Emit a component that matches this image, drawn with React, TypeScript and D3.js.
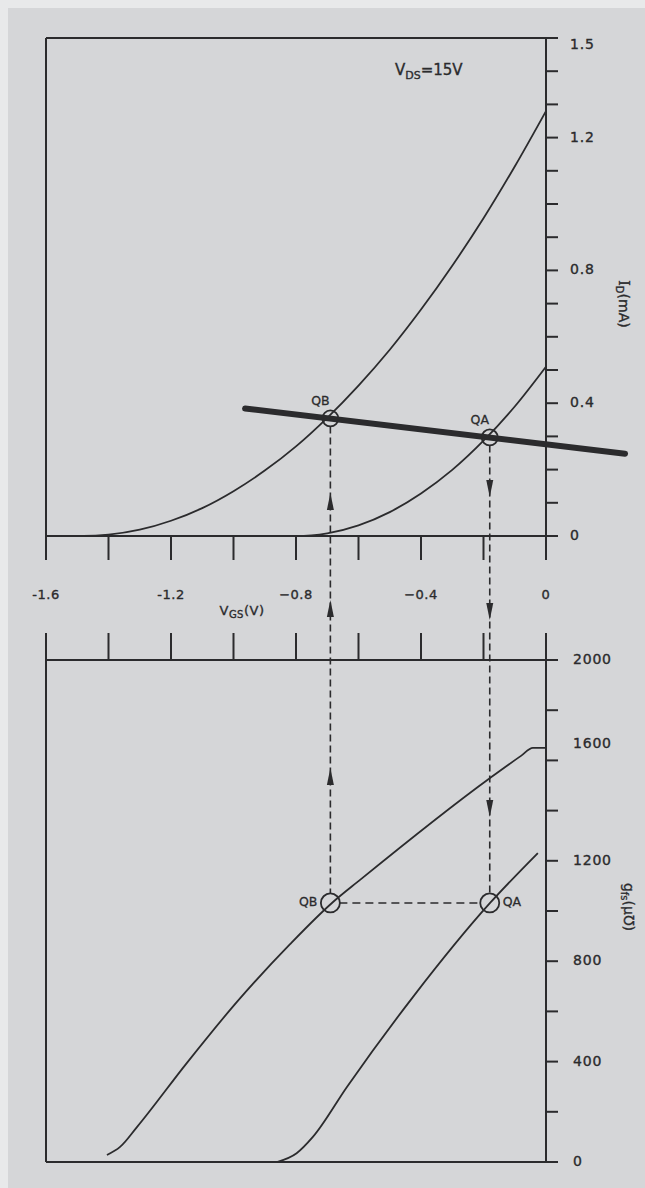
import { curveMonotoneX, line, scaleLinear } from 'd3'

// axis ticks and labels
const vgsTicks = [-1.6, -1.4, -1.2, -1.0, -0.8, -0.6, -0.4, -0.2, 0]
const vgsLabelValues = [-1.6, -1.2, -0.8, -0.4, 0]
const vgsLabelText = ['-1.6', '-1.2', '−0.8', '−0.4', '0']

const idTicks = [0, 0.1, 0.2, 0.3, 0.4, 0.5, 0.6, 0.7, 0.8, 0.9, 1.0, 1.1, 1.2, 1.3, 1.4, 1.5]
const idLabelValues = [0, 0.4, 0.8, 1.2, 1.5]
const gfsTicks = [0, 200, 400, 600, 800, 1000, 1200, 1400, 1600, 1800, 2000]
const gfsLabelValues = [0, 400, 800, 1200, 1600, 2000]

// transfer curves, I_D (mA) vs V_GS (V)
const idHighVgs = [-1.55, -1.48, -1.4, -1.3, -1.2, -1.1, -1.0, -0.9, -0.8, -0.7, -0.6, -0.5, -0.4, -0.3, -0.2, -0.1, 0]
const idHighMa = [0, 0, 0.004, 0.019, 0.046, 0.084, 0.135, 0.197, 0.27, 0.356, 0.453, 0.561, 0.682, 0.814, 0.957, 1.113, 1.28]
const idLowVgs = [-0.88, -0.8, -0.75, -0.7, -0.6, -0.5, -0.4, -0.3, -0.2, -0.1, 0]
const idLowMa = [0, 0, 0.002, 0.008, 0.032, 0.072, 0.128, 0.199, 0.287, 0.39, 0.51]

// transconductance curves, g_fs (umho) vs V_GS (V)
const gfsHighVgs = [-1.405, -1.363, -1.309, -1.149, -0.989, -0.819, -0.685, -0.595, -0.179, -0.08, -0.042, 0]
const gfsHighVal = [28, 60, 139, 395, 638, 868, 1032, 1124, 1530, 1618, 1650, 1650]
const gfsLowVgs = [-0.861, -0.798, -0.746, -0.637, -0.426, -0.179, -0.026]
const gfsLowVal = [0, 35, 100, 299, 657, 1032, 1231]

// bias line
const loadVgs = [-0.963, 0.253]
const loadMa = [0.384, 0.248]

// operating points
const qNames = ['QB', 'QA']
const qVgs = [-0.69, -0.18]
const qId = [0.354, 0.297]
const qGfs = [1032, 1032]

const ink = '#2b2b2d'
const font = '"DejaVu Sans", sans-serif'

export default function App() {
  const x = scaleLinear().domain([-1.6, 0]).range([46, 546])
  const yTop = scaleLinear().domain([0, 1.5]).range([536, 38])
  const yBot = scaleLinear().domain([0, 2000]).range([1162, 660])

  const idLine = line<[number, number]>()
    .x((d) => x(d[0]))
    .y((d) => yTop(d[1]))
    .curve(curveMonotoneX)
  const gfsLine = line<[number, number]>()
    .x((d) => x(d[0]))
    .y((d) => yBot(d[1]))
    .curve(curveMonotoneX)

  const zip = (a: number[], b: number[]) => a.map((v, i) => [v, b[i]] as [number, number])

  const x0 = x(-1.6)
  const x1 = x(0)
  const tickLen = 12

  const arrow = (cx: number, tip: number, up: boolean, key: string) => {
    const base = up ? tip + 17 : tip - 17
    return <polygon key={key} points={`${cx},${tip} ${cx - 3.5},${base} ${cx + 3.5},${base}`} fill={ink} />
  }

  return (
    <svg
      width={645}
      height={1188}
      style={{ position: 'absolute', left: 0, top: 0, display: 'block' }}
      fontFamily={font}
    >
      <rect width={645} height={1188} fill="#e8e9ea" />
      <rect x={8} y={8} width={637} height={1180} fill="#d5d6d8" />

      {/* ---------- upper plot: I_D ---------- */}
      <g stroke={ink} strokeWidth={2} fill="none">
        <line x1={x0} x2={x1} y1={yTop(1.5)} y2={yTop(1.5)} />
        <line x1={x0} x2={x0} y1={yTop(1.5)} y2={yTop(0)} />
        <line x1={x1} x2={x1} y1={yTop(1.5)} y2={yTop(0)} />
        <line x1={x0} x2={x1} y1={yTop(0)} y2={yTop(0)} />
        {idTicks.map((t) => (
          <line key={`it-${t}`} x1={x1} x2={x1 + tickLen} y1={yTop(t)} y2={yTop(t)} />
        ))}
        {vgsTicks.map((t) => (
          <line key={`vt-${t}`} x1={x(t)} x2={x(t)} y1={yTop(0)} y2={yTop(0) + 24} />
        ))}
      </g>

      <g fill={ink} stroke={ink} strokeWidth={0.35} fontSize={14} letterSpacing={0.8}>
        {idLabelValues.map((t) => (
          <text key={`il-${t}`} x={570} y={yTop(t) + (t === 1.5 ? 7 : 0)} dominantBaseline="middle">
            {t === 0 ? '0' : t.toFixed(1)}
          </text>
        ))}
      </g>

      <text x={395} y={75} fill={ink} stroke={ink} strokeWidth={0.35} fontSize={15}>
        V<tspan fontSize={11} dy={4}>DS</tspan>
        <tspan dy={-4}>=15V</tspan>
      </text>

      <text
        transform="translate(619,304) rotate(90)"
        textAnchor="middle"
        fill={ink}
        stroke={ink}
        strokeWidth={0.35}
        fontSize={14}
      >
        <tspan fontFamily='"DejaVu Serif", serif'>I</tspan>
        <tspan fontSize={10} dy={3}>D</tspan>
        <tspan dy={-3}>(mA)</tspan>
      </text>

      <path d={idLine(zip(idHighVgs, idHighMa)) ?? ''} fill="none" stroke={ink} strokeWidth={1.8} />
      <path d={idLine(zip(idLowVgs, idLowMa)) ?? ''} fill="none" stroke={ink} strokeWidth={1.8} />
      <path
        d={line<[number, number]>().x((d) => x(d[0])).y((d) => yTop(d[1]))(zip(loadVgs, loadMa)) ?? ''}
        fill="none"
        stroke={ink}
        strokeWidth={6}
        strokeLinecap="round"
      />

      {/* ---------- middle V_GS axis labels ---------- */}
      <g fill={ink} stroke={ink} strokeWidth={0.35} fontSize={13} letterSpacing={0.5}>
        {vgsLabelValues.map((v, i) => (
          <text key={`vl-${v}`} x={x(v)} y={595} textAnchor="middle" dominantBaseline="middle">
            {vgsLabelText[i]}
          </text>
        ))}
        <text x={242} y={615} textAnchor="middle">
          V<tspan fontSize={10} dy={3}>GS</tspan>
          <tspan dy={-3}>(V)</tspan>
        </text>
      </g>

      {/* ---------- lower plot: g_fs ---------- */}
      <g stroke={ink} strokeWidth={2} fill="none">
        <line x1={x0} x2={x1} y1={yBot(2000)} y2={yBot(2000)} />
        <line x1={x0} x2={x0} y1={yBot(2000)} y2={yBot(0)} />
        <line x1={x1} x2={x1} y1={yBot(2000)} y2={yBot(0)} />
        <line x1={x0} x2={x1} y1={yBot(0)} y2={yBot(0)} />
        {gfsTicks.map((t) => (
          <line key={`gt-${t}`} x1={x1} x2={x1 + tickLen} y1={yBot(t)} y2={yBot(t)} />
        ))}
        {vgsTicks.map((t) => (
          <line key={`vb-${t}`} x1={x(t)} x2={x(t)} y1={yBot(2000)} y2={yBot(2000) - 27} />
        ))}
      </g>

      <g fill={ink} stroke={ink} strokeWidth={0.35} fontSize={14} letterSpacing={0.8}>
        {gfsLabelValues.map((t) => (
          <text key={`gl-${t}`} x={573} y={yBot(t) + (t === 1600 ? -16 : 0)} dominantBaseline="middle">
            {t}
          </text>
        ))}
      </g>

      <text
        transform="translate(624,907) rotate(90)"
        textAnchor="middle"
        fill={ink}
        stroke={ink}
        strokeWidth={0.3}
        fontSize={14}
      >
        g<tspan fontSize={10} dy={3}>fs</tspan>
        <tspan dy={-3}>(μ℧)</tspan>
      </text>

      <path d={gfsLine(zip(gfsHighVgs, gfsHighVal)) ?? ''} fill="none" stroke={ink} strokeWidth={1.8} />
      <path d={gfsLine(zip(gfsLowVgs, gfsLowVal)) ?? ''} fill="none" stroke={ink} strokeWidth={1.8} />

      {/* ---------- operating point projections ---------- */}
      <g stroke={ink} strokeWidth={1.6} fill="none" strokeDasharray="7 4">
        {qVgs.map((v, i) => (
          <line key={`qd-${i}`} x1={x(v)} x2={x(v)} y1={yTop(qId[i]) + 8} y2={yBot(qGfs[i]) - 9} />
        ))}
        <line x1={x(qVgs[0]) + 9} x2={x(qVgs[1]) - 9} y1={yBot(qGfs[0])} y2={yBot(qGfs[1])} strokeDasharray="8 5" />
      </g>

      {/* QB arrows point up, QA arrows point down */}
      {arrow(x(qVgs[0]), 493, true, 'ab1')}
      {arrow(x(qVgs[0]), 600, true, 'ab2')}
      {arrow(x(qVgs[0]), 768, true, 'ab3')}
      {arrow(x(qVgs[1]), 497, false, 'aa1')}
      {arrow(x(qVgs[1]), 620, false, 'aa2')}
      {arrow(x(qVgs[1]), 817, false, 'aa3')}

      <g fill="none" stroke={ink} strokeWidth={1.8}>
        {qVgs.map((v, i) => (
          <circle key={`qt-${i}`} cx={x(v)} cy={yTop(qId[i])} r={8} />
        ))}
        {qVgs.map((v, i) => (
          <circle key={`qb-${i}`} cx={x(v)} cy={yBot(qGfs[i])} r={9.5} />
        ))}
      </g>

      <g fill={ink} stroke={ink} strokeWidth={0.3} fontSize={12.5}>
        {qNames.map((n, i) => (
          <text key={`qn-${n}`} x={x(qVgs[i]) - 10} y={yTop(qId[i]) - 13} textAnchor="middle">
            {n}
          </text>
        ))}
        <text x={x(qVgs[0]) - 13} y={yBot(qGfs[0])} textAnchor="end" dominantBaseline="middle">
          {qNames[0]}
        </text>
        <text x={x(qVgs[1]) + 13} y={yBot(qGfs[1])} textAnchor="start" dominantBaseline="middle">
          {qNames[1]}
        </text>
      </g>
    </svg>
  )
}
